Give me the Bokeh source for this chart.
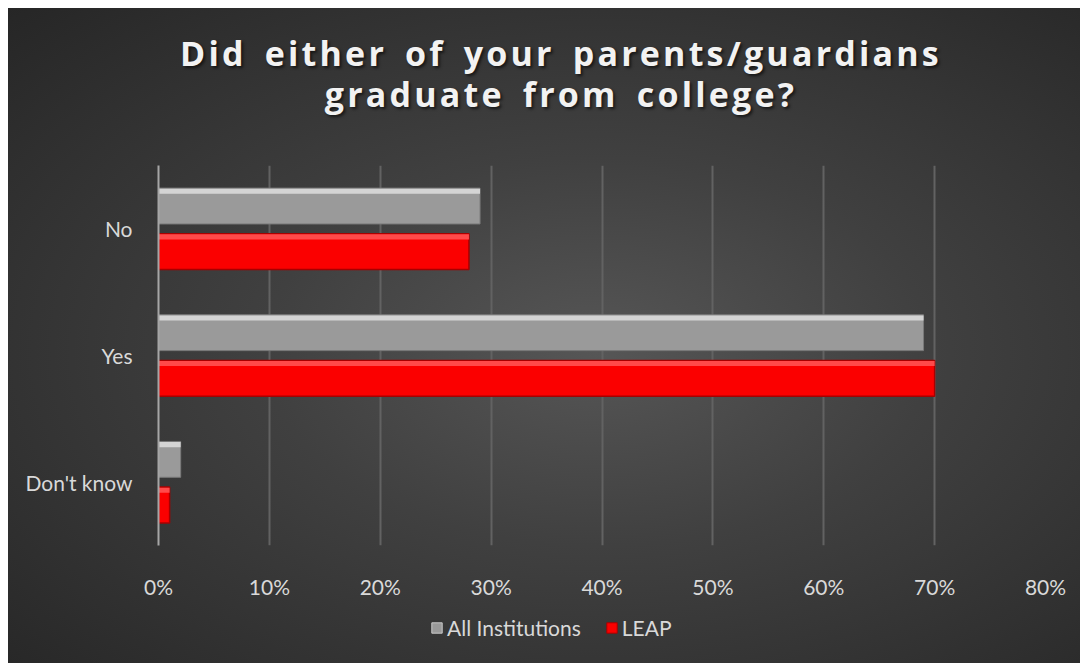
from bokeh.plotting import figure
from bokeh.models import Legend, LegendItem, NumeralTickFormatter, FixedTicker, ColumnDataSource, Div
from bokeh.transform import dodge
from bokeh.layouts import column
from bokeh.embed import file_html
from bokeh.resources import INLINE

categories = ["Don't know", "Yes", "No"]
all_institutions = [0.02, 0.69, 0.29]
leap = [0.01, 0.70, 0.28]
series_names = ["All Institutions", "LEAP"]
x_ticks = [0, 0.1, 0.2, 0.3, 0.4, 0.5, 0.6, 0.7, 0.8]
title_lines = ["Did either of your parents/guardians", "graduate from college?"]

src = ColumnDataSource(dict(cat=categories, allv=all_institutions, leap=leap))

title_div = Div(text="<br>".join(title_lines), width=1072, height=157, margin=(0, 0, 0, 0),
                styles={"text-align": "center", "color": "#f2f2f2", "font-family": "Open Sans",
                        "font-weight": "bold", "font-size": "34px", "line-height": "41px",
                        "letter-spacing": "3.2px", "word-spacing": "6px",
                        "padding-top": "25px", "padding-left": "34px", "box-sizing": "border-box",
                        "text-shadow": "2px 2px 3px rgba(0,0,0,0.6)"})

p = figure(frame_width=887, frame_height=380, y_range=categories, x_range=(0, 0.8),
           output_backend="svg", toolbar_location=None, margin=(0, 0, 0, 0),
           min_border_left=150, min_border_right=35, min_border_top=0, min_border_bottom=50)
p.background_fill_color = None
p.border_fill_color = None
p.outline_line_color = None

BAR_H = 0.283
OFF = 0.18
bar_kw = dict(height=BAR_H, source=src)
p.hbar(y=dodge("cat", OFF, range=p.y_range), right="allv", fill_color="#9a9a9a",
       line_color="#7a7a7a", line_width=1, **bar_kw)
p.hbar(y=dodge("cat", -OFF, range=p.y_range), right="leap", fill_color="#fb0000",
       line_color="#a80000", line_width=1.5, **bar_kw)
# bevel highlights along the top edge of each bar
p.hbar(y=dodge("cat", OFF + BAR_H / 2 - 0.025, range=p.y_range), right="allv", height=0.04, source=src,
       fill_color="#d4d4d4", line_color=None)
p.hbar(y=dodge("cat", -OFF + BAR_H / 2 - 0.025, range=p.y_range), right="leap", height=0.04, source=src,
       fill_color="#ff4a4a", line_color=None)

p.xaxis.ticker = FixedTicker(ticks=x_ticks)
p.xaxis.formatter = NumeralTickFormatter(format="0%")
p.xaxis.axis_line_color = None
p.xaxis.major_tick_line_color = None
p.xaxis.minor_tick_line_color = None
p.xaxis.major_label_text_font = "Lato"
p.xaxis.major_label_text_font_size = "21px"
p.xaxis.major_label_text_color = "#d9d9d9"
p.xaxis.major_label_standoff = 22

p.yaxis.axis_line_color = "#a6a6a6"
p.yaxis.axis_line_width = 2
p.yaxis.major_tick_line_color = None
p.yaxis.minor_tick_line_color = None
p.yaxis.major_label_text_font = "Lato"
p.yaxis.major_label_text_font_size = "21px"
p.yaxis.major_label_text_color = "#d9d9d9"
p.yaxis.major_label_standoff = 20

p.xgrid.grid_line_color = "#626262"
p.xgrid.grid_line_width = 2
p.ygrid.grid_line_color = None

# legend strip below the chart
lf = figure(width=1072, height=68, x_range=(0, 1), y_range=categories, output_backend="svg",
            toolbar_location=None, x_axis_type=None, y_axis_type=None, margin=(0, 0, 0, 0),
            min_border=0, min_border_left=0, min_border_right=0, min_border_top=0, min_border_bottom=0)
lf.background_fill_color = None
lf.border_fill_color = None
lf.outline_line_color = None
lf.grid.visible = False
l1 = lf.hbar(y="cat", right="allv", height=0.5, source=src, fill_color="#9a9a9a",
             line_color="#c8c8c8", line_width=1, visible=False)
l2 = lf.hbar(y="cat", right="leap", height=0.5, source=src, fill_color="#fb0000",
             line_color="#a80000", line_width=1, visible=False)
legend = Legend(items=[LegendItem(label=series_names[0], renderers=[l1]),
                       LegendItem(label=series_names[1], renderers=[l2])],
                orientation="horizontal", location=(272, 29),
                label_text_font="Lato", label_text_font_size="21px", label_text_color="#d9d9d9",
                background_fill_alpha=0, border_line_color=None,
                glyph_width=13, glyph_height=13, spacing=24, label_standoff=4, margin=0, padding=0)
lf.add_layout(legend, "center")

inner = column(title_div, p, lf, spacing=0, margin=(0, 0, 0, 0),
               styles={"background": "radial-gradient(ellipse farthest-corner at 55% 52%, #565656 0%, #404040 40%, #262626 100%)"})
layout = column(inner, styles={"padding-top": "8px", "padding-left": "8px"})
open("out.html", "w").write(file_html(layout, INLINE))
